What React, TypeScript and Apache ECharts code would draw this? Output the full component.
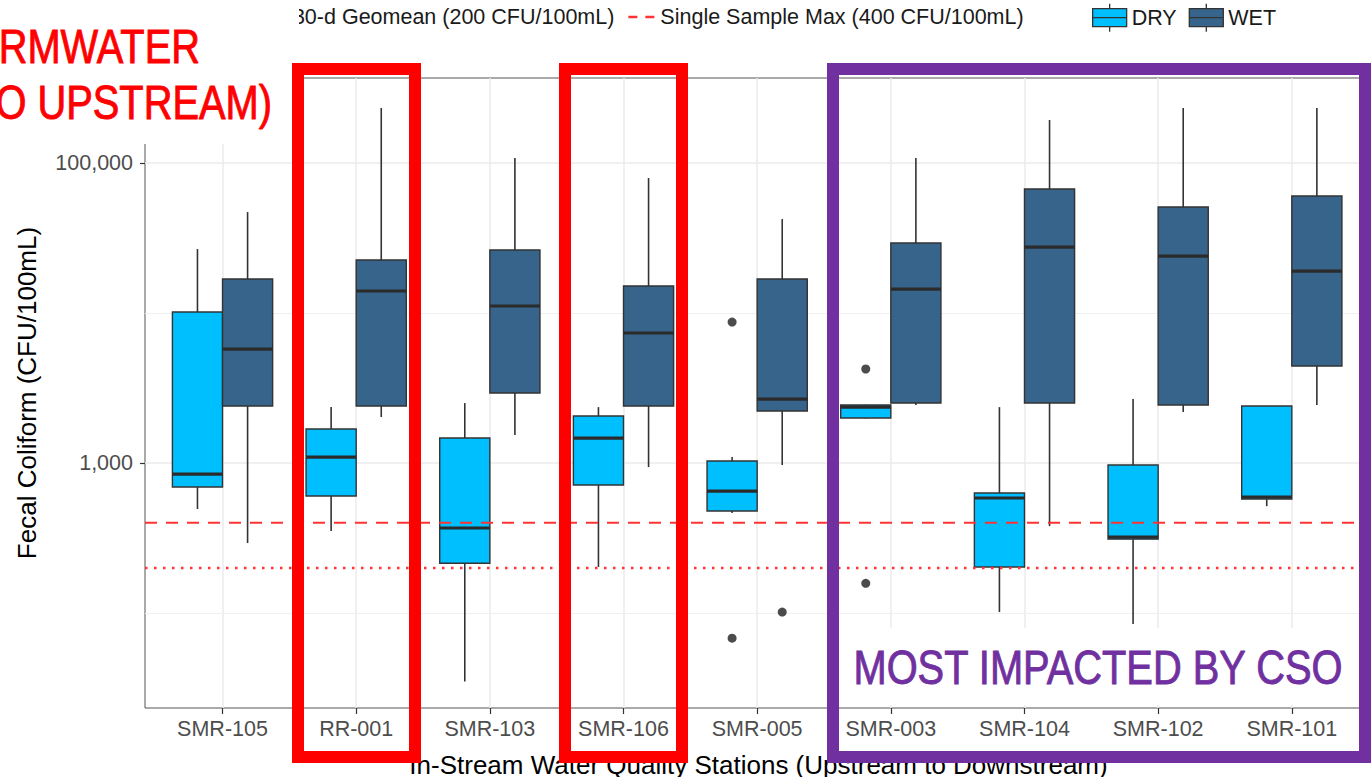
import React, { useEffect, useRef } from 'react';
import * as echarts from 'echarts';

// ---------- data ----------
const stations = ['SMR-105', 'RR-001', 'SMR-103', 'SMR-106', 'SMR-005', 'SMR-003', 'SMR-104', 'SMR-102', 'SMR-101'];

// [min, Q1, median, Q3, max]  (CFU/100mL)
const dryStats = [
  [494, 692, 845, 10160, 26700],
  [352, 603, 1096, 1685, 2360],
  [35, 215, 369, 1468, 2512],
  [203, 714, 1468, 2057, 2360],
  [464, 479, 651, 1031, 1096],
  [1980, 1995, 2360, 2436, 2450],
  [101.6, 203, 585, 631, 2360],
  [84.5, 311, 321, 970, 2671],
  [516, 575, 593, 2400, 2400],
];
const wetStats = [
  [293, 2400, 5750, 16860, 47100],
  [2027, 2400, 14020, 22560, 232600],
  [1537, 2929, 11140, 26300, 108000],
  [940, 2400, 7360, 15140, 79400],
  [970, 2222, 2671, 16860, 42300],
  [2436, 2512, 14450, 29300, 108000],
  [380, 2512, 27540, 67100, 193600],
  [2188, 2436, 23990, 50900, 232600],
  [2436, 4436, 19050, 60260, 232600],
];
// [station index, value]
const dryOutliers = [[4, 8710], [4, 68], [5, 4236], [5, 158]];
const wetOutliers = [[4, 101.6]];

const geomeanName = '30-d Geomean (200 CFU/100mL)';
const singleMaxName = 'Single Sample Max (400 CFU/100mL)';
const geomeanLimit = 200;
const singleSampleMax = 400;

const yLabelTicks = [1000, 100000];
const yMinorGrid = [100, 10000];

// ---------- layout / style constants ----------
const X_MIN = 0.42;
const X_MAX = 9.6;
const Y_MIN = 23.3;
const Y_MAX = 368700;
const DODGE = 0.1875;
const BOX_W = 0.375;
const DRY_COLOR = '#00BFFF';
const WET_COLOR = '#36648B';
const LIMIT_COLOR = '#FF3333';
const FONT = '"Liberation Sans", Arial, sans-serif';
const SMALL = 21.5;
const stationPos = stations.map((_, i) => i + 1);

const LEGEND_BOX_ICON = 'path://M17,0L17,5M0,5L34,5L34,23L0,23ZM0,14L34,14M17,23L17,28';
const LEGEND_DASH_ICON = 'path://M0,0h9v2.4h-9zM17,0h9v2.4h-9z';
const LEGEND_DOT_ICON = 'path://M0,0h2.4v2.4h-2.4zM7.8,0h2.4v2.4h-2.4zM15.6,0h2.4v2.4h-2.4zM23.4,0h2.4v2.4h-2.4z';

function renderBox(params: any, api: any) {
  const x = api.value(0);
  const lo = api.coord([x, api.value(1)]);
  const q1 = api.coord([x, api.value(2)]);
  const md = api.coord([x, api.value(3)]);
  const q3 = api.coord([x, api.value(4)]);
  const hi = api.coord([x, api.value(5)]);
  const left = api.coord([x - BOX_W / 2, api.value(3)])[0];
  const right = api.coord([x + BOX_W / 2, api.value(3)])[0];
  const cx = lo[0];
  const fill = api.visual('color');
  const line = { stroke: '#333333', lineWidth: 1.6 };
  return {
    type: 'group',
    children: [
      { type: 'line', shape: { x1: cx, y1: hi[1], x2: cx, y2: q3[1] }, style: line },
      { type: 'line', shape: { x1: cx, y1: q1[1], x2: cx, y2: lo[1] }, style: line },
      {
        type: 'rect',
        shape: { x: left, y: q3[1], width: right - left, height: q1[1] - q3[1] },
        style: { fill, stroke: '#333333', lineWidth: 1.4 },
      },
      { type: 'line', shape: { x1: left, y1: md[1], x2: right, y2: md[1] }, style: { stroke: '#2b2b2b', lineWidth: 3.2 } },
    ],
  };
}

export default function App() {
  const ref = useRef<HTMLDivElement>(null);

  useEffect(() => {
    if (!ref.current) return;
    const chart = echarts.init(ref.current, undefined, { renderer: 'svg' });

    const gridLineData = [
      ...stationPos.map((p) => ({ xAxis: p, lineStyle: { color: '#EBEBEB', width: 1.5, type: 'solid' } })),
      ...yLabelTicks.map((v) => ({ yAxis: v, lineStyle: { color: '#EBEBEB', width: 1.5, type: 'solid' } })),
      ...yMinorGrid.map((v) => ({ yAxis: v, lineStyle: { color: '#F0F0F0', width: 1, type: 'solid' } })),
    ];

    const annoText = (text: string, x: number, y: number, color: string, align: string) => ({
      type: 'text',
      z: 101,
      silent: true,
      x,
      y,
      scaleX: 0.83,
      style: {
        text,
        fill: color,
        stroke: color,
        lineWidth: 0.9,
        fontSize: 48,
        fontFamily: FONT,
        align,
        verticalAlign: 'middle',
      },
    });

    const option: any = {
      animation: false,
      textStyle: { fontFamily: FONT },
      grid: {
        left: 145,
        right: -1,
        top: 78,
        bottom: 69,
        show: true,
        backgroundColor: '#ffffff',
        borderColor: '#555555',
        borderWidth: 1,
        outerBoundsMode: 'none',
        containLabel: false,
      },
      legend: [
        {
          data: [
            { name: geomeanName, icon: LEGEND_DOT_ICON, itemStyle: { color: LIMIT_COLOR, borderWidth: 0 } },
            { name: singleMaxName, icon: LEGEND_DASH_ICON, itemStyle: { color: LIMIT_COLOR, borderWidth: 0 } },
          ],
          left: 261,
          top: 6,
          padding: 0,
          itemWidth: 28,
          itemHeight: 2.4,
          itemGap: 14,
          selectedMode: false,
          textStyle: { fontSize: SMALL, color: '#1a1a1a', fontFamily: FONT },
        },
        {
          data: [
            { name: 'DRY', icon: LEGEND_BOX_ICON, itemStyle: { color: DRY_COLOR, borderColor: '#333333', borderWidth: 1.3 } },
            { name: 'WET', icon: LEGEND_BOX_ICON, itemStyle: { color: WET_COLOR, borderColor: '#333333', borderWidth: 1.3 } },
          ],
          left: 1092,
          top: 3,
          padding: 0,
          itemWidth: 34,
          itemHeight: 28,
          itemGap: 12,
          selectedMode: false,
          textStyle: { fontSize: SMALL, color: '#1a1a1a', fontFamily: FONT },
        },
      ],
      xAxis: {
        type: 'value',
        min: X_MIN,
        max: X_MAX,
        axisLine: { show: false },
        splitLine: { show: false },
        axisTick: { show: true, customValues: stationPos, length: 6, lineStyle: { color: '#333333', width: 1.2 } },
        axisLabel: {
          customValues: stationPos,
          formatter: (v: number) => stations[Math.round(v) - 1] ?? '',
          fontSize: SMALL,
          color: '#4D4D4D',
          margin: 10,
          fontFamily: FONT,
        },
        name: 'In-Stream Water Quality Stations (Upstream to Downstream)',
        nameLocation: 'middle',
        nameGap: 44,
        nameTextStyle: { fontSize: 26, color: '#000000', fontFamily: FONT },
      },
      yAxis: {
        type: 'log',
        logBase: 10,
        min: Y_MIN,
        max: Y_MAX,
        axisLine: { show: false },
        splitLine: { show: false },
        minorSplitLine: { show: false },
        axisTick: { show: true, customValues: yLabelTicks, length: 5, lineStyle: { color: '#333333', width: 1.2 } },
        axisLabel: {
          customValues: yLabelTicks,
          formatter: (v: number) => Math.round(Number(v)).toLocaleString('en-US'),
          fontSize: SMALL,
          color: '#4D4D4D',
          margin: 12,
          fontFamily: FONT,
        },
        name: 'Fecal Coliform (CFU/100mL)',
        nameLocation: 'middle',
        nameGap: 105,
        nameTextStyle: { fontSize: 26, color: '#000000', fontFamily: FONT },
      },
      series: [
        {
          type: 'line',
          name: 'grid',
          data: [],
          silent: true,
          markLine: {
            silent: true,
            symbol: ['none', 'none'],
            label: { show: false },
            z: 1,
            data: gridLineData,
          },
        },
        {
          type: 'custom',
          name: 'DRY',
          z: 3,
          itemStyle: { color: DRY_COLOR },
          encode: { x: 0, y: [1, 2, 3, 4, 5] },
          data: dryStats.map((s, i) => [i + 1 - DODGE, ...s]),
          renderItem: renderBox,
          silent: true,
        },
        {
          type: 'custom',
          name: 'WET',
          z: 3,
          itemStyle: { color: WET_COLOR },
          encode: { x: 0, y: [1, 2, 3, 4, 5] },
          data: wetStats.map((s, i) => [i + 1 + DODGE, ...s]),
          renderItem: renderBox,
          silent: true,
        },
        {
          type: 'scatter',
          name: 'DRY outliers',
          z: 4,
          symbolSize: 9,
          itemStyle: { color: '#1f1f1f' },
          data: dryOutliers.map(([i, v]) => [i + 1 - DODGE, v]),
          silent: true,
        },
        {
          type: 'scatter',
          name: 'WET outliers',
          z: 4,
          symbolSize: 9,
          itemStyle: { color: '#1f1f1f' },
          data: wetOutliers.map(([i, v]) => [i + 1 + DODGE, v]),
          silent: true,
        },
        {
          type: 'line',
          name: geomeanName,
          z: 5,
          symbol: 'none',
          silent: true,
          lineStyle: { color: LIMIT_COLOR, width: 2.5, type: [2.5, 6.5] },
          itemStyle: { color: LIMIT_COLOR },
          data: [[X_MIN, geomeanLimit], [X_MAX, geomeanLimit]],
        },
        {
          type: 'line',
          name: singleMaxName,
          z: 5,
          symbol: 'none',
          silent: true,
          lineStyle: { color: LIMIT_COLOR, width: 2, type: [12, 9] },
          itemStyle: { color: LIMIT_COLOR },
          data: [[X_MIN, singleSampleMax], [X_MAX, singleSampleMax]],
        },
      ],
      graphic: {
        elements: [
          { type: 'rect', z: 100, silent: true, shape: { x: 0, y: 0, width: 299, height: 144 }, style: { fill: '#ffffff' } },
          { type: 'rect', z: 100, silent: true, shape: { x: 839, y: 628, width: 519, height: 77 }, style: { fill: '#ffffff' } },
          annoText('STORMWATER', 200, 46, '#FF0000', 'right'),
          annoText('(NO UPSTREAM)', 272, 102, '#FF0000', 'right'),
          annoText('MOST IMPACTED BY CSO', 1098, 667, '#7030A0', 'center'),
          { type: 'rect', z: 102, silent: true, shape: { x: 298, y: 69, width: 117, height: 688 }, style: { fill: 'none', stroke: '#FF0000', lineWidth: 12 } },
          { type: 'rect', z: 102, silent: true, shape: { x: 565, y: 69, width: 117, height: 688 }, style: { fill: 'none', stroke: '#FF0000', lineWidth: 12 } },
          { type: 'rect', z: 102, silent: true, shape: { x: 833, y: 69, width: 532, height: 688 }, style: { fill: 'none', stroke: '#7030A0', lineWidth: 12 } },
        ],
      },
    };

    chart.setOption(option);
    return () => chart.dispose();
  }, []);

  return (
    <div
      ref={ref}
      style={{ position: 'fixed', left: 0, top: 0, width: 1371, height: 777, background: '#ffffff' }}
    />
  );
}
